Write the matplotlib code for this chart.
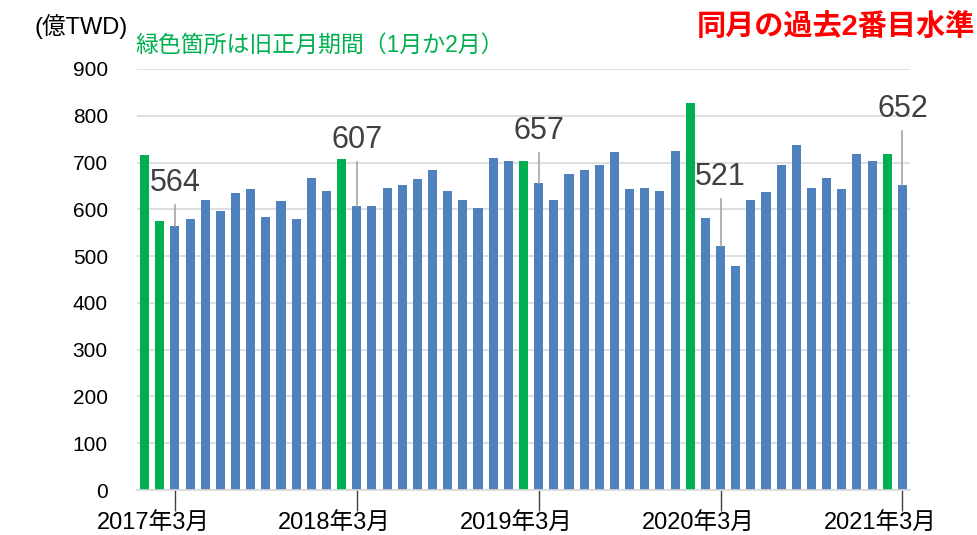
import matplotlib
matplotlib.use("Agg")
import matplotlib.pyplot as plt
import matplotlib.transforms as mtransforms
import numpy as np

plt.rcParams['font.family'] = ['Liberation Sans', 'Noto Sans CJK JP', 'DejaVu Sans']

# monthly values, Jan 2017 - Mar 2021 (億TWD)
v2017 = [716, 574, 564, 580, 619, 597, 634, 643, 583, 618, 580, 667]
v2018 = [639, 707, 607, 608, 645, 652, 664, 684, 639, 619, 603, 709]
v2019 = [704, 703, 657, 621, 676, 685, 694, 722, 644, 646, 639, 724]
v2020 = [828, 581, 521, 479, 620, 637, 694, 737, 645, 666, 644, 718]
v2021 = [703, 718, 652]
values = v2017 + v2018 + v2019 + v2020 + v2021

# months that fall in the lunar new year period (index into values)
lny_idx = [0, 1, 13, 25, 36, 49]

tick_idx = [2, 14, 26, 38, 50]
tick_labels = ['2017年3月', '2018年3月', '2019年3月', '2020年3月', '2021年3月']

# labelled bars and how far above the bar the label sits
label_idx = [2, 14, 26, 38, 50]
label_lift = [92, 141, 111, 148, 163]

blue = '#4f81bd'
green = '#00b050'
colors = [green if i in lny_idx else blue for i in range(len(values))]

fig = plt.figure(figsize=(9.78, 5.35), dpi=100)
ax = fig.add_axes([137/978, 45/535, 773/978, 421/535])

x = np.arange(len(values))
ax.bar(x, values, width=0.6, color=colors, zorder=2)

ax.set_xlim(-0.5, len(values) - 0.5)
ax.set_ylim(0, 900)
ax.set_yticks(range(0, 901, 100))
ax.yaxis.grid(True, color='#d9d9d9', linewidth=1.2, zorder=0)
ax.set_axisbelow(True)
for s in ['top', 'right', 'left']:
    ax.spines[s].set_visible(False)
ax.spines['bottom'].set_color('#d9d9d9')
ax.spines['bottom'].set_linewidth(1.2)
ax.tick_params(axis='y', length=0, labelsize=15, pad=21)

ax.set_xticks(tick_idx)
ax.set_xticklabels(tick_labels, fontsize=17)
ax.tick_params(axis='x', length=15, width=1, color='#404040', pad=1.5)
shift = mtransforms.ScaledTranslation(-22/100, 0, fig.dpi_scale_trans)
for lab in ax.get_xticklabels():
    lab.set_transform(lab.get_transform() + shift)

# data labels with leader lines (gap below text ~ 47 data units)
for i, lift in zip(label_idx, label_lift):
    v = values[i]
    ax.text(i, v + lift, str(v), ha='center', va='center', fontsize=22,
            color='#404040', zorder=4)
    ax.plot([i, i], [v, v + lift - 47], color='#a6a6a6', lw=1.2, zorder=3)

fig.text(35/978, 1 - 27/535, '(億TWD)', fontsize=17, va='center', ha='left')
fig.text(135/978, 1 - 45/535, '緑色箇所は旧正月期間（1月か2月）', fontsize=16.5,
         color=green, va='center', ha='left')
fig.text(975/978, 1 - 27/535, '同月の過去2番目水準', fontsize=21, color='#ff0000',
         fontweight='bold', va='center', ha='right')

fig.savefig('out.png', dpi=100)
